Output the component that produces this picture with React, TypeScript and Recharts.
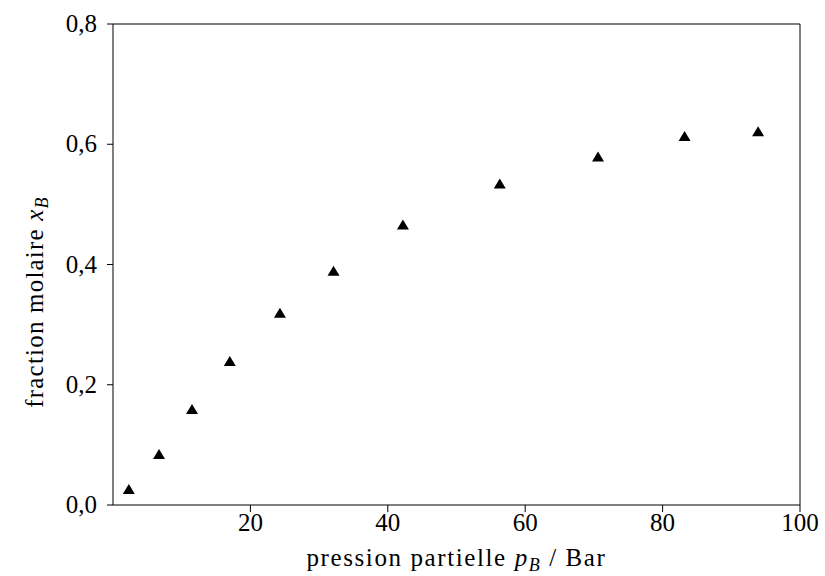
import React from "react";
import {
  ScatterChart,
  Scatter,
  XAxis,
  YAxis,
  ReferenceLine,
  Label,
} from "recharts";

// pression partielle p_B (Bar)
const pressure = [2.3, 6.7, 11.5, 17.0, 24.3, 32.1, 42.2, 56.3, 70.6, 83.2, 93.9];
// fraction molaire x_B
const fraction = [0.025, 0.083, 0.158, 0.238, 0.318, 0.388, 0.465, 0.533, 0.578, 0.612, 0.62];

const xTicks = [20, 40, 60, 80, 100];
const yTicks = [0, 0.2, 0.4, 0.6, 0.8];

const data = pressure.map((p, i) => ({ p, x: fraction[i] }));

const FONT = "'Liberation Serif', 'Times New Roman', serif";
const FS = 25;

const comma = (v: number) => v.toFixed(1).replace(".", ",");

function Triangle(props: any) {
  const { cx, cy } = props;
  if (cx == null || cy == null) return null;
  const w = 6;
  return (
    <polygon
      points={`${cx - w},${cy + 4} ${cx + w},${cy + 4} ${cx},${cy - 6}`}
      fill="#000"
    />
  );
}

function XTick(props: any) {
  const { x, y, payload } = props;
  return (
    <text x={x} y={y + 19} textAnchor="middle" style={{ fontFamily: FONT, fontSize: FS }} fill="#000">
      {payload.value}
    </text>
  );
}

function YTick(props: any) {
  const { x, y, payload } = props;
  return (
    <text x={x} y={y + 8} textAnchor="end" style={{ fontFamily: FONT, fontSize: FS }} fill="#000">
      {comma(payload.value)}
    </text>
  );
}

function XTitle(props: any) {
  const { viewBox } = props;
  const x = viewBox.x + viewBox.width / 2;
  const y = 566;
  return (
    <text x={x} y={y} textAnchor="middle" style={{ fontFamily: FONT, fontSize: FS, letterSpacing: 1.6 }} fill="#000">
      pression partielle{" "}
      <tspan fontStyle="italic">p</tspan>
      <tspan fontStyle="italic" fontSize={18} dy={5}>B</tspan>
      <tspan dy={-5}>{"  /  Bar"}</tspan>
    </text>
  );
}

function YTitle() {
  const x = 43;
  const y = 302;
  return (
    <text
      x={x}
      y={y}
      textAnchor="middle"
      transform={`rotate(-90, ${x}, ${y})`}
      style={{ fontFamily: FONT, fontSize: FS, letterSpacing: 1.2 }}
      fill="#000"
    >
      fraction molaire{" "}
      <tspan fontStyle="italic">x</tspan>
      <tspan fontStyle="italic" fontSize={18} dy={5}>B</tspan>
    </text>
  );
}

export default function App() {
  return (
    <div style={{ position: "absolute", left: 0, top: 0, background: "#fff" }}>
      <ScatterChart
        width={825}
        height={576}
        margin={{ top: 24, right: 25, left: 0, bottom: 0 }}
      >
        <XAxis
          type="number"
          dataKey="p"
          domain={[0, 100]}
          ticks={xTicks}
          tick={<XTick />}
          tickSize={7}
          tickMargin={0}
          height={71}
          stroke="#000"
          tickLine={{ stroke: "#000" }}
        >
          <Label content={<XTitle />} />
        </XAxis>
        <YAxis
          type="number"
          dataKey="x"
          domain={[0, 0.8]}
          ticks={yTicks}
          tick={<YTick />}
          tickSize={6}
          tickMargin={10}
          width={113}
          stroke="#000"
          tickLine={{ stroke: "#000" }}
        >
          <Label content={<YTitle />} />
        </YAxis>
        <ReferenceLine y={0.8} stroke="#000" ifOverflow="visible" />
        <ReferenceLine x={100} stroke="#000" ifOverflow="visible" />
        <Scatter data={data} shape={<Triangle />} isAnimationActive={false} />
      </ScatterChart>
    </div>
  );
}
